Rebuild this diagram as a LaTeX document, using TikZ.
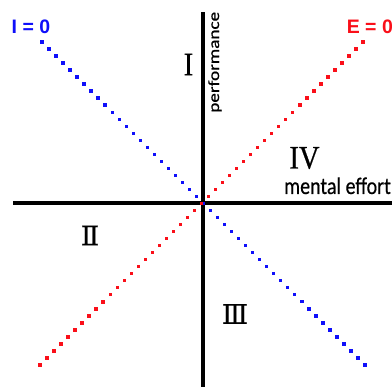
\documentclass[tikz,border=0pt]{standalone}
\usepackage{fontspec}
\usetikzlibrary{calc}
\setmainfont{Liberation Sans}
\newfontfamily\axfont[FakeBold=0.5]{Carlito}
\newfontfamily\romfont[FakeBold=0.6]{Liberation Serif}
\newfontfamily\numfont[FakeBold=0.5]{DejaVu Serif}
\definecolor{dotblue}{RGB}{15,15,250}
\definecolor{dotred}{RGB}{250,15,25}
\begin{document}
\begin{tikzpicture}[x=1pt,y=-1pt,
  axis/.style={line width=3.3pt},
  lbl/.style={inner sep=0pt,anchor=base west,font=\fontsize{19.5}{19.5}\selectfont\bfseries},
  quad/.style={inner sep=0pt,yscale=1.15,font=\romfont\fontsize{28.5}{28.5}\selectfont},
  quadb/.style={inner sep=0pt,font=\numfont\fontsize{27}{27}\selectfont}]
\useasboundingbox (0,0) rectangle (392,387);
\clip (0,0) rectangle (392,387);
\fill[white] (0,0) rectangle (392,387);
% axes
\coordinate (xl) at (13,203);
\coordinate (xr) at (392,203);
\coordinate (yt) at (203,12.5);
\coordinate (yb) at (203,387);
\draw[axis] (xl) -- (xr);
\draw[axis] (yt) -- (yb);
% dotted lines
\coordinate (bs) at (42,42);
\coordinate (be) at (365,365);
\coordinate (rs) at (40,365);
\coordinate (re) at (363,42);
\foreach \i in {0,...,46}{
  \fill[dotblue] ($(bs)!\i/46!(be)$) ++(-1.7,-1.7) rectangle ++(3.4,3.4);
}
\foreach \i in {0,...,46}{
  \fill[dotred] ($(rs)!\i/46!(re)$) ++(-1.7,-1.7) rectangle ++(3.4,3.4);
}
% labels
\node[lbl,text=dotblue] (I0) at (11.5,33.3) {I = 0};
\node[lbl,text=dotred] (E0) at (346.6,33.8) {E = 0};
\node[inner sep=0pt,anchor=base west,rotate=90,xscale=1.23,font=\axfont\fontsize{15.6}{15.6}\selectfont] (perf) at (219,113) {performance};
\node[inner sep=0pt,anchor=base west,yscale=1.2,font=\axfont\fontsize{20}{20}\selectfont] (ment) at (284,194) {mental effort};
% quadrants
\node[quad] (q1) at (188.5,64.5) {I};
\node[quadb] (q2) at (90,235.5) {Ⅱ};
\node[quadb] (q3) at (235,314) {Ⅲ};
\node[quad] (q4) at (304.5,158) {IV};
\end{tikzpicture}
\end{document}
